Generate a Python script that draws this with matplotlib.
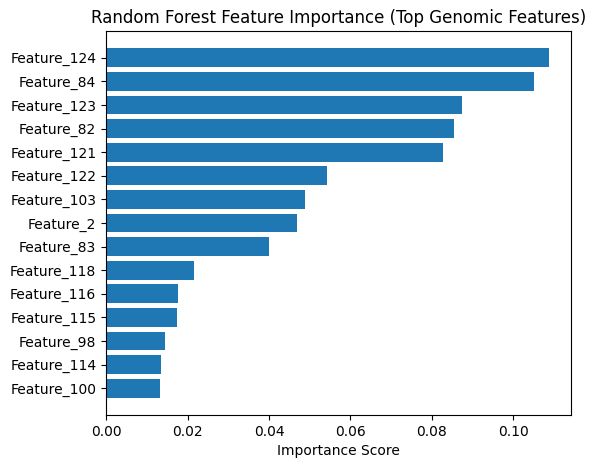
import matplotlib
matplotlib.use("Agg")
import matplotlib.pyplot as plt

features = ['Feature_124', 'Feature_84', 'Feature_123', 'Feature_82', 'Feature_121',
            'Feature_122', 'Feature_103', 'Feature_2', 'Feature_83', 'Feature_118',
            'Feature_116', 'Feature_115', 'Feature_98', 'Feature_114', 'Feature_100']
importances = [0.1087, 0.1050, 0.0873, 0.0853, 0.0826,
               0.0542, 0.0488, 0.0468, 0.0399, 0.0215,
               0.0176, 0.0174, 0.0144, 0.0134, 0.0132]

fig = plt.figure(figsize=(5.96, 4.68), dpi=100)
ax = fig.add_subplot(111)
fig.subplots_adjust(left=0.178, right=0.958, top=0.934, bottom=0.113)

# reverse so the largest sits at the top
ax.barh(features[::-1], importances[::-1], color='#1f77b4')
ax.set_xlabel('Importance Score')
ax.set_title('Random Forest Feature Importance (Top Genomic Features)')

fig.savefig('out.png', dpi=100)
